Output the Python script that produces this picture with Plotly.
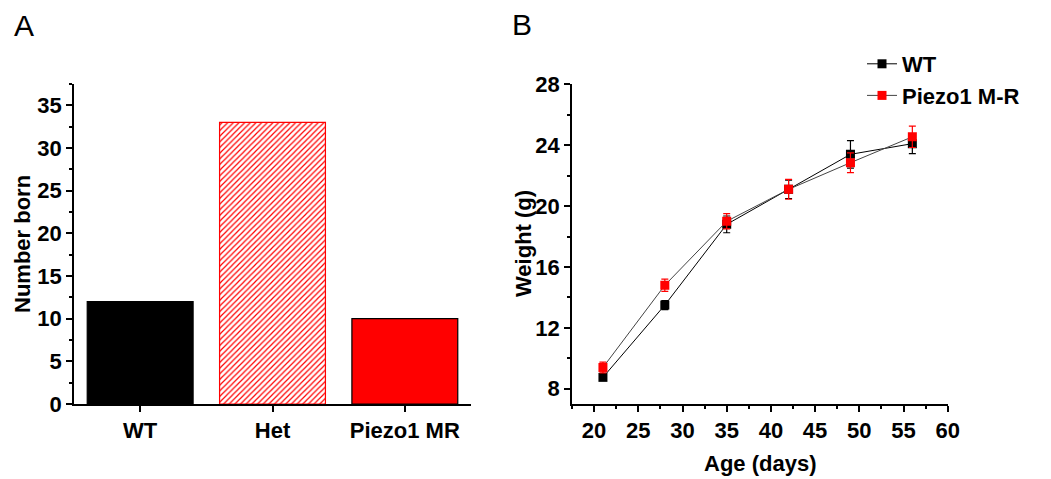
import plotly.graph_objects as go

# Panel A data
genotypes = ["WT", "Het", "Piezo1 MR"]
number_born = [12, 33, 10]

# Panel B data
age_days = [21, 28, 35, 42, 49, 56]
wt_weight = [8.75, 13.5, 18.8, 21.1, 23.4, 24.1]
wt_err = [0.15, 0.3, 0.55, 0.6, 0.9, 0.65]
mr_weight = [9.4, 14.8, 19.0, 21.1, 22.85, 24.55]
mr_err = [0.35, 0.4, 0.5, 0.65, 0.65, 0.7]

FONT = "Liberation Sans"
fs = 22

bar_styles = [
    dict(color="black", line=dict(color="black", width=1.2)),
    dict(color="white", line=dict(color="red", width=1.2),
         pattern=dict(shape="/", fgcolor="#ff0000", bgcolor="white", fillmode="replace",
                      size=4, solidity=0.3, fgopacity=1)),
    dict(color="red", line=dict(color="black", width=1.2)),
]

fig = go.Figure()

for g, n, st in zip(genotypes, number_born, bar_styles):
    fig.add_trace(go.Bar(x=[g], y=[n], width=0.8, xaxis="x", yaxis="y",
                         marker=st, showlegend=False))

fig.add_trace(go.Scatter(
    x=age_days, y=wt_weight, xaxis="x2", yaxis="y2", name="WT",
    mode="lines+markers",
    line=dict(color="black", width=1),
    marker=dict(symbol="square", size=9, color="black"),
    error_y=dict(type="data", array=wt_err, color="black", thickness=1.2, width=3.5),
))
fig.add_trace(go.Scatter(
    x=age_days, y=mr_weight, xaxis="x2", yaxis="y2", name="Piezo1 M-R",
    mode="lines+markers",
    line=dict(color="#444444", width=1),
    marker=dict(symbol="square", size=9, color="red"),
    error_y=dict(type="data", array=mr_err, color="red", thickness=1.2, width=3.5),
))

tickfont = dict(family=FONT, size=fs, color="black", weight="bold")
axcommon = dict(showline=True, linecolor="black", linewidth=1.5, ticks="outside",
                tickcolor="black", tickwidth=1.5, ticklen=6, showgrid=False,
                zeroline=False, tickfont=tickfont, automargin=False)

ydomA = [1 - 404 / 479, 1 - 84 / 479]

fig.update_layout(
    width=1051, height=479,
    margin=dict(l=0, r=0, t=0, b=0),
    paper_bgcolor="white", plot_bgcolor="white",
    barmode="overlay",
    xaxis=dict(domain=[74 / 1051, 471 / 1051], anchor="y", type="category",
               categoryarray=genotypes, range=[-0.5, 2.5], **axcommon),
    xaxis3=dict(domain=[74 / 1051, 471 / 1051], anchor="y", overlaying="x", type="category",
                categoryarray=genotypes, range=[-0.5, 2.5], tickson="boundaries",
                showline=False, ticks="outside", ticklen=3, tickwidth=1.5, tickcolor="black",
                showticklabels=False, showgrid=False, zeroline=False, side="bottom"),
    yaxis=dict(domain=ydomA, anchor="x", range=[0, 37.5], dtick=5, tick0=0,
               minor=dict(dtick=2.5, tick0=0, ticks="outside", ticklen=3, tickcolor="black", tickwidth=1.5),
               **axcommon),
    xaxis2=dict(domain=[572 / 1051, 947.7 / 1051], anchor="y2", range=[17.5, 60], dtick=5, tick0=20,
                minor=dict(dtick=2.5, tick0=20, ticks="outside", ticklen=3, tickcolor="black", tickwidth=1.5),
                **axcommon),
    yaxis2=dict(domain=[1 - 404 / 479, 1 - 84.3 / 479], anchor="x2", range=[7, 28], dtick=4, tick0=8,
                minor=dict(dtick=2, tick0=8, ticks="outside", ticklen=3, tickcolor="black", tickwidth=1.5),
                **axcommon),
    legend=dict(x=862 / 1051, y=1 - 43 / 479, xanchor="left", yanchor="top",
                font=dict(family=FONT, size=fs, color="black", weight="bold"),
                bgcolor="rgba(0,0,0,0)", borderwidth=0, tracegroupgap=0),
    showlegend=True,
)

def ann(text, x, y, size=fs, angle=0, bold=True):
    fig.add_annotation(text=text, x=x / 1051, y=1 - y / 479, xref="paper", yref="paper",
                       showarrow=False, textangle=angle, xanchor="center", yanchor="middle",
                       font=dict(family=FONT, size=size, color="black", weight="bold" if bold else "normal"))

ann("Number born", 22, 244, angle=-90)
ann("Age (days)", 760, 463)
ann("Weight (g)", 523, 244, angle=-90)
ann("A", 24, 25, size=30, bold=False)
ann("B", 522, 24, size=30, bold=False)

fig.write_html("out.html", config={"displayModeBar": False},
               post_script="document.body.style.margin='0';document.body.style.overflow='hidden';")
